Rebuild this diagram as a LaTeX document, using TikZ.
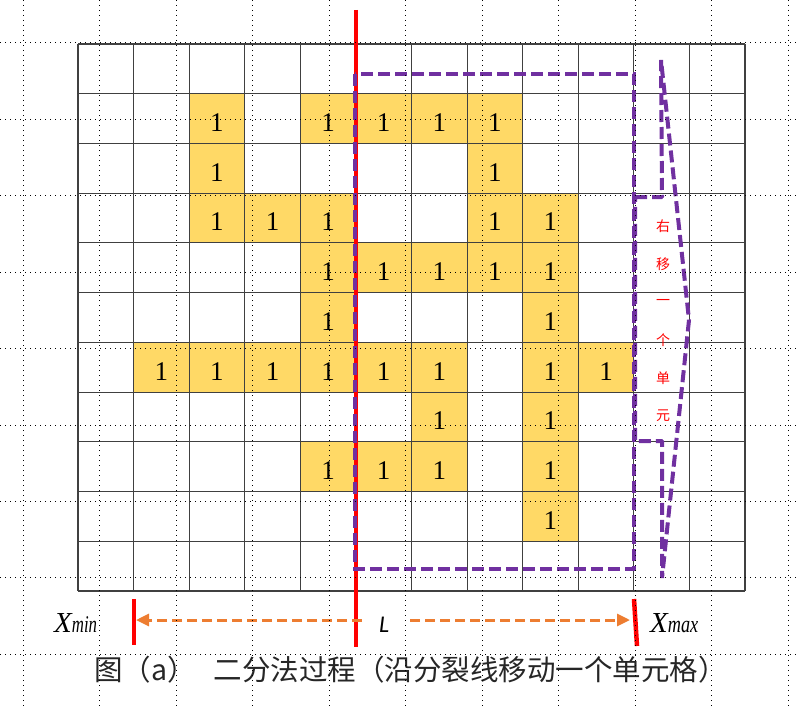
\documentclass[tikz,border=0pt]{standalone}
\usepackage{fontspec}
\usepackage{graphicx}
\setmainfont{Liberation Serif}
\newfontfamily\cjkfont{Noto Sans CJK SC}
\newfontfamily\carlfont{Carlito}
\usetikzlibrary{arrows.meta}
\definecolor{cellyellow}{HTML}{FFD966}
\definecolor{splitred}{HTML}{FF0000}
\definecolor{boxpurple}{HTML}{7030A0}
\definecolor{arrorange}{HTML}{ED7D31}
\tikzset{
  gridline/.style={draw=black!75, line width=1.1pt},
  onecell/.style={inner sep=0pt, font=\fontsize{27}{27}\selectfont},
  redline/.style={draw=splitred, line width=4.5pt},
  purpdash/.style={draw=boxpurple, line width=4pt, dash pattern=on 12pt off 5pt},
  vtext/.style={inner sep=0pt, text=splitred, font=\cjkfont\fontsize{14}{14}\selectfont},
  orarrow/.style={draw=arrorange, line width=3pt, dash pattern=on 10pt off 5pt, -{Triangle[length=13pt,width=12pt]}},
  redtick/.style={draw=splitred, line width=4.5pt},
  dotgrid/.style={draw=black, line width=1pt, dash pattern=on 1pt off 4pt},
}
\begin{document}
\begin{tikzpicture}[x=1pt,y=-1pt]
\useasboundingbox (0,0) rectangle (799,706);
\def\cw{55.583}
\def\rh{49.727}
% yellow cells with their 1s
\foreach \c/\r in {2/1,4/1,5/1,6/1,7/1, 2/2,7/2, 2/3,3/3,4/3,7/3,8/3, 4/4,5/4,6/4,7/4,8/4, 4/5,8/5, 1/6,2/6,3/6,4/6,5/6,6/6,8/6,9/6, 6/7,8/7, 4/8,5/8,6/8,8/8, 8/9}{
  \fill[cellyellow] ({78+\c*\cw},{44+\r*\rh}) rectangle ++(\cw,\rh);
  \node[onecell] (n\c-\r) at ({78+(\c+0.5)*\cw},{44+(\r+0.5)*\rh+4}) {1};
}
% grid
\foreach \i in {0,...,12}{
  \draw[gridline] ({78+\i*\cw},44) -- ({78+\i*\cw},591);
}
\foreach \j in {0,...,11}{
  \draw[gridline] (78,{44+\j*\rh}) -- (745,{44+\j*\rh});
}
% split line
\coordinate (splitTop) at (356,10);
\coordinate (splitBot) at (356,647);
\draw[redline] (splitTop) -- (splitBot);
% purple window
\draw[purpdash] (355,74) rectangle (634,569);
% right block arrow
\draw[purpdash, line join=bevel] (635,197) -- (662,197) -- (661,60) -- (689,320) -- (662,578) -- (662,441) -- (635,441) -- cycle;
\foreach \ch [count=\k from 0] in {右,移,一,个,单,元}{
  \node[vtext] (t\k) at (663,{226+38*\k}) {\ch};
}
% bounds
\coordinate (xminTop) at (134,599);
\coordinate (xminBot) at (134,645);
\coordinate (xmaxTop) at (634,599);
\coordinate (xmaxBot) at (637,646);
\draw[redtick] (xminTop) -- (xminBot);
\draw[redtick] (xmaxTop) -- (xmaxBot);
\coordinate (lStartL) at (362,620);
\coordinate (lEndL) at (136,620);
\coordinate (lStartR) at (410,620);
\coordinate (lEndR) at (630,620);
\draw[orarrow] (lStartL) -- (lEndL);
\draw[orarrow] (lStartR) -- (lEndR);
\node[anchor=base west, inner sep=0pt] (xmin) at (54,632) {\fontsize{29}{29}\selectfont\itshape X\scalebox{0.7}[1]{\fontsize{24}{24}\selectfont min}};
\node[anchor=base west, inner sep=0pt] (xmax) at (650,632) {\fontsize{29}{29}\selectfont\itshape X\scalebox{0.76}[1]{\fontsize{24}{24}\selectfont max}};
\node[anchor=base west, inner sep=0pt] (lbl) at (379,632) {\carlfont\itshape\fontsize{24}{24}\selectfont L};
% caption
\node[anchor=base west, inner sep=0pt, text=black!85] (cap) at (94,680) {\cjkfont\fontsize{28.5}{28.5}\selectfont 图（a）\hspace{18pt}二分法过程（沿分裂线移动一个单元格）};
% background guide dots
\foreach \gx in {23,99.5,176,252.5,329,405.5,482,558.5,635,711.5,788}{
  \draw[dotgrid] (\gx,0) -- (\gx,706);
}
\foreach \gy in {43,119.4,195.8,272.2,348.6,425,501.4,577.8,654.2}{
  \draw[dotgrid] (0,\gy) -- (799,\gy);
}
\end{tikzpicture}
\end{document}
